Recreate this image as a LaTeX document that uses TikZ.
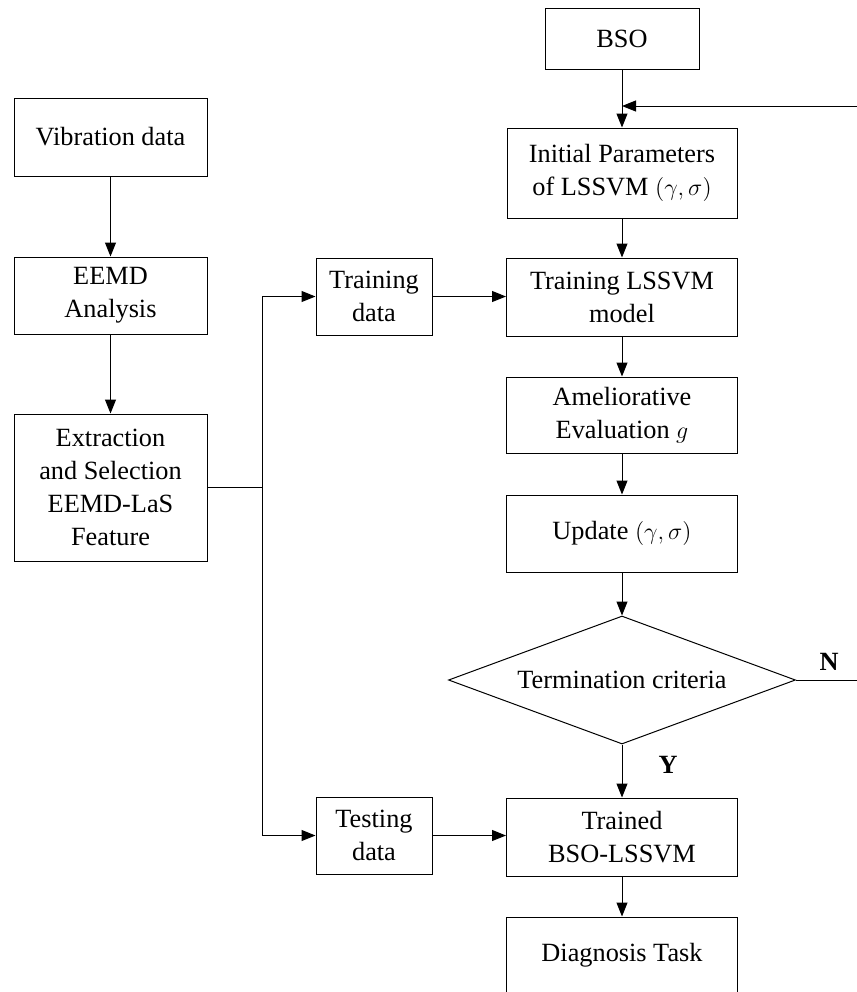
\documentclass[tikz,border=0pt]{standalone}
\usepackage{fontspec}
\setmainfont{Liberation Serif}
\usetikzlibrary{shapes.geometric,arrows.meta}
\begin{document}
\begin{tikzpicture}[x=0.5pt,y=-0.5pt,
  font=\fontsize{13.15}{16.5}\selectfont,
  line width=0.5pt,
  box/.style={draw, rectangle, align=center, inner sep=0pt},
  flow/.style={-{Triangle[length=7pt,width=5.5pt]}},
  yn/.style={font=\fontsize{13.15}{16.5}\selectfont\bfseries}]
\useasboundingbox (0,0) rectangle (857,992);

% left column
\node[box, minimum width=96.5pt, minimum height=39pt] (vib) at (110.5,137) {Vibration data};
\node[box, minimum width=96.5pt, minimum height=38.5pt] (eemd) at (110.5,295.5) {EEMD\\Analysis};
\node[box, minimum width=96.5pt, minimum height=73.5pt] (extr) at (110.5,487.5) {Extraction\\and Selection\\EEMD-LaS\\Feature};

% data split
\node[box, minimum width=58pt, minimum height=38.5pt] (trd) at (374,296.5) {Training\\data};
\node[box, minimum width=58pt, minimum height=38.5pt] (ted) at (374,835.5) {Testing\\data};

% optimisation column
\node[box, minimum width=77pt, minimum height=30.5pt] (bso) at (622,38.5) {BSO};
\node[box, minimum width=115pt, minimum height=45pt] (init) at (622,173) {Initial Parameters\\of LSSVM $(\gamma,\sigma)$};
\node[box, minimum width=115.5pt, minimum height=39pt] (train) at (622,297) {Training LSSVM\\model};
\node[box, minimum width=115.5pt, minimum height=38pt] (amel) at (622,415) {Ameliorative\\Evaluation $g$};
\node[box, minimum width=115.5pt, minimum height=38.5pt] (upd) at (622,533.5) {Update $(\gamma,\sigma)$};
\node[draw, diamond, shape aspect=2.7, inner sep=0pt, minimum width=173.5pt, minimum height=64pt] (term) at (622,680) {Termination criteria};
\node[box, minimum width=115.5pt, minimum height=39pt] (trained) at (622,837) {Trained\\BSO-LSSVM};
\node[box, minimum width=115.5pt, minimum height=38.5pt] (diag) at (622,955.5) {Diagnosis Task};

\coordinate (split) at (262,487.5);
\coordinate (loopin) at (857,106);
\coordinate (loopout) at (857,680);

% connectors
\draw[flow] (vib) -- (eemd);
\draw[flow] (eemd) -- (extr);
\draw (extr.east) -- (split);
\draw[flow] (split) |- (trd.west);
\draw[flow] (split) |- (ted.west);
\draw[flow] (trd.east) -- (trd.east -| train.west);
\draw[flow] (ted.east) -- (ted.east -| trained.west);
\draw[flow] (bso) -- (init);
\draw[flow] (loopin) -- (loopin -| bso.south);
\draw[flow] (init) -- (train);
\draw[flow] (train) -- (amel);
\draw[flow] (amel) -- (upd);
\draw[flow] (upd) -- (term);
\draw[flow] (term) -- (trained);
\draw[flow] (trained) -- (diag);
\draw (term.east) -- (loopout);

\node[yn] (nlab) at (829,662) {N};
\node[yn] (ylab) at (668,765) {Y};
\end{tikzpicture}
\end{document}
